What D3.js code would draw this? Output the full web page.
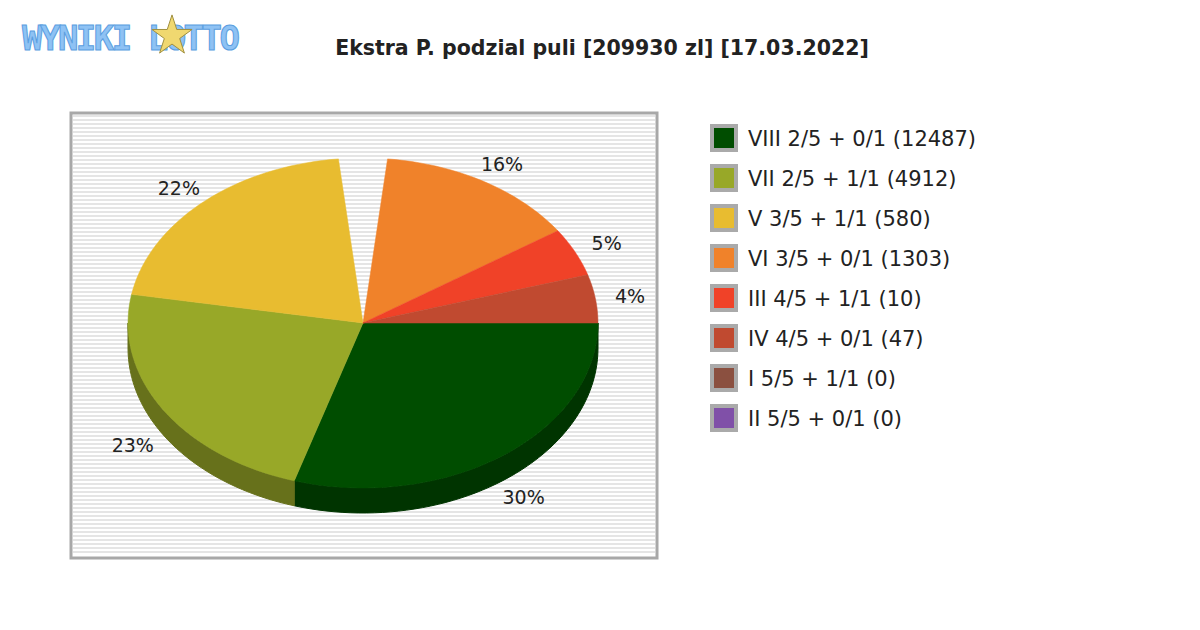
<!DOCTYPE html>
<html><head><meta charset="utf-8">
<script src="https://cdn.jsdelivr.net/npm/d3@7"></script>
<style>body{margin:0;background:#fff}svg{font-family:"DejaVu Sans",sans-serif}</style>
</head><body><svg width="1200" height="630"></svg>
<script>
var labels = ["VIII 2/5 + 0/1 (12487)", "VII 2/5 + 1/1 (4912)", "V 3/5 + 1/1 (580)", "VI 3/5 + 0/1 (1303)",
              "III 4/5 + 1/1 (10)", "IV 4/5 + 0/1 (47)", "I 5/5 + 1/1 (0)", "II 5/5 + 0/1 (0)"];
var shares = [30, 23, 22, 16, 5, 4, 0, 0];
// slice sweep in degrees as drawn in the picture (gap after the third slice)
var sweeps = [107, 83, 74, 50, 17, 17, 0, 0];
var colors = ["#004d00", "#98a828", "#e8bc30", "#f0822a", "#f04228", "#c04a30", "#8b5040", "#8050a8"];

var svg = d3.select("svg");
var cx = 363, cy = 323, rx = 235, ry = 165, depth = 25;

var box = svg.append("g");
box.append("rect").attr("x", 71).attr("y", 113).attr("width", 586).attr("height", 445).attr("fill", "#fff");
d3.range(116, 556, 4).forEach(function(y) {
  box.append("line").attr("x1", 73).attr("x2", 655).attr("y1", y).attr("y2", y).attr("stroke", "#dcdcdc").attr("stroke-width", 1.5);
});
box.append("rect").attr("x", 71).attr("y", 113).attr("width", 586).attr("height", 445)
  .attr("fill", "none").attr("stroke", "#a8a8a8").attr("stroke-width", 3);

svg.append("text").attr("x", 602).attr("y", 55).attr("text-anchor", "middle")
  .attr("font-size", 20.5).attr("font-weight", "bold").attr("fill", "#222")
  .text("Ekstra P. podzial puli [209930 zl] [17.03.2022]");

// logo
svg.append("text").attr("x", 22).attr("y", 50).attr("font-size", 34).attr("font-weight", "bold")
  .attr("font-family", "DejaVu Sans Mono").attr("fill", "#8ec2f4").attr("stroke", "#5a9ee0").attr("stroke-width", 1)
  .attr("textLength", 218).text("WYNIKI LOTTO");
svg.append("path").attr("d", d3.symbol(d3.symbolStar, 500)()).attr("transform", "translate(172,36)")
  .attr("fill", "#f0d870").attr("stroke", "#a09040");

var gap = 12, a = 0, slices = [];
shares.forEach(function(s, i) {
  var a0 = a, a1 = a + sweeps[i];
  slices.push({i: i, a0: a0, a1: a1, v: s});
  a = a1 + (i == 2 ? gap : 0);
});
var rad = Math.PI / 180;
function pt(deg, dy) { return [cx + rx * Math.cos(deg * rad), cy + ry * Math.sin(deg * rad) + (dy || 0)]; }
function arcPts(a0, a1, dy) {
  var n = Math.max(2, Math.ceil((a1 - a0) / 2));
  return d3.range(n + 1).map(function(k) { return pt(a0 + (a1 - a0) * k / n, dy); });
}
var line = d3.line();

slices.filter(function(s) { return s.v > 0; }).forEach(function(s) {
  var b0 = Math.max(s.a0, 0), b1 = Math.min(s.a1, 180);
  if (b1 <= b0) return;
  var p = arcPts(b0, b1, 0).concat(arcPts(b0, b1, depth).reverse());
  svg.append("path").attr("d", line(p) + "Z")
    .attr("fill", d3.color(colors[s.i]).darker(1.1)).attr("stroke", d3.color(colors[s.i]).darker(1.1));
});
slices.filter(function(s) { return s.v > 0; }).forEach(function(s) {
  var p = [[cx, cy]].concat(arcPts(s.a0, s.a1, 0));
  svg.append("path").attr("d", line(p) + "Z").attr("fill", colors[s.i]).attr("stroke", colors[s.i]).attr("stroke-width", 0.5);
  var m = (s.a0 + s.a1) / 2;
  var lx = cx + (rx + 35) * Math.cos(m * rad), ly = cy + (ry + 20) * Math.sin(m * rad) + (Math.sin(m * rad) > 0 ? depth : 0);
  svg.append("text").attr("x", lx).attr("y", ly + 7).attr("text-anchor", "middle")
    .attr("font-size", 19).attr("fill", "#222").text(s.v + "%");
});

var lg = svg.selectAll("g.leg").data(labels).enter().append("g").attr("class", "leg")
  .attr("transform", function(d, i) { return "translate(710," + (124 + i * 40) + ")"; });
lg.append("rect").attr("width", 28).attr("height", 28).attr("fill", "#aaa");
lg.append("rect").attr("x", 4).attr("y", 4).attr("width", 20).attr("height", 20)
  .attr("fill", function(d, i) { return colors[i]; });
lg.append("text").attr("x", 38).attr("y", 22).attr("font-size", 21).attr("fill", "#222").text(function(d) { return d; });
</script></body></html>
